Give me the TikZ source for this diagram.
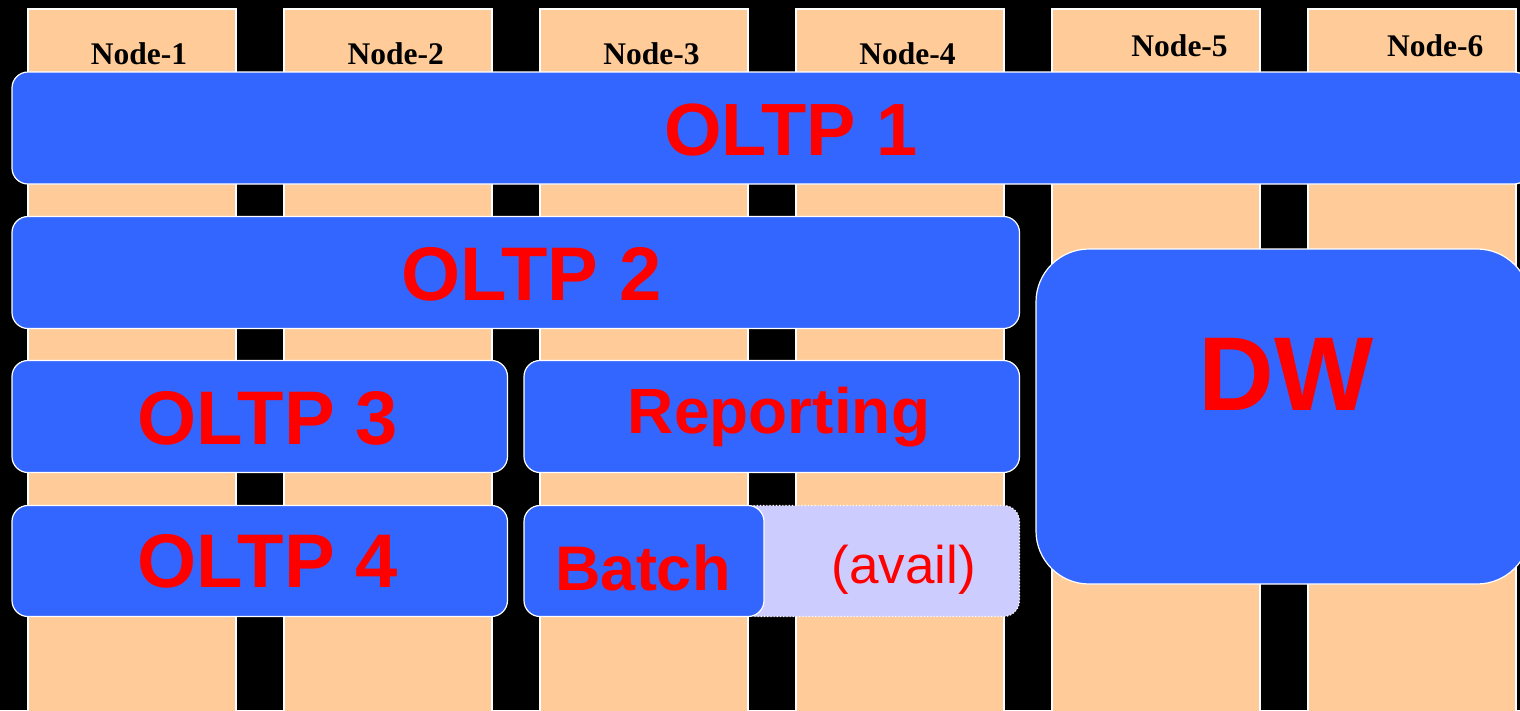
\documentclass[tikz,border=0pt]{standalone}
\usepackage{fontspec}
\setmainfont{Liberation Serif}
\newfontfamily\arialfont{Liberation Sans}
\definecolor{peach}{HTML}{FFCC99}
\definecolor{slotblue}{HTML}{3366FF}
\definecolor{freeslot}{HTML}{CCCCFF}
\definecolor{labelred}{HTML}{FF0000}
\tikzset{
  column/.style={fill=peach, draw=white, line width=1.2pt},
  slot/.style={fill=slotblue, draw=white, line width=1.2pt, rounded corners=16pt},
  freebox/.style={fill=freeslot, draw=white, line width=1.2pt, dotted, rounded corners=16pt},
  bigslot/.style={fill=slotblue, draw=white, line width=1.2pt, rounded corners=53pt},
  nodelabel/.style={inner sep=0pt, anchor=base, font=\bfseries\fontsize{31.5}{34}\selectfont},
  slotlabel/.style={inner sep=0pt, anchor=base, text=labelred},
}
\begin{document}
\begin{tikzpicture}[x=1pt, y=-1pt]
  \useasboundingbox (0,0) rectangle (1520,710);
  \fill[black] (0,0) rectangle (1520,710);
  \clip (0,0) rectangle (1520,710);

  % cluster nodes
  \foreach \i in {0,...,5} {
    \path[column] ({28+256*\i},9) rectangle ({236+256*\i},720);
  }

  % workloads
  \path[slot] (12,72) rectangle (1530,184);
  \path[slot] (12,216.5) rectangle (1019.5,328.5);
  \path[slot] (12,360.5) rectangle (507.5,472.5);
  \path[slot] (524,360.5) rectangle (1019.5,472.5);
  \path[slot] (12,505.5) rectangle (507.5,616.5);
  \path[freebox] (740,505.5) rectangle (1019.5,616.5);
  \path[slot] (524,505.5) rectangle (764,616.5);
  \path[bigslot] (1036,249) rectangle (1530,584);

  % node headings
  \node[nodelabel] (n1) at (139,64.3) {Node-1};
  \node[nodelabel] (n2) at (395.7,64.3) {Node-2};
  \node[nodelabel] (n3) at (651.5,64.3) {Node-3};
  \node[nodelabel] (n4) at (907.5,64.3) {Node-4};
  \node[nodelabel] (n5) at (1179.6,56) {Node-5};
  \node[nodelabel] (n6) at (1435.3,56) {Node-6};

  % workload labels
  \node[slotlabel, font=\arialfont\bfseries\fontsize{74}{80}\selectfont] (oltp1) at (791,155.7) {OLTP 1};
  \node[slotlabel, font=\arialfont\bfseries\fontsize{76}{80}\selectfont] (oltp2) at (531.5,300) {OLTP 2};
  \node[slotlabel, font=\arialfont\bfseries\fontsize{76}{80}\selectfont] (oltp3) at (268,444) {OLTP 3};
  \node[slotlabel, font=\arialfont\bfseries\fontsize{64}{70}\selectfont] (rep) at (779,433.3) {Reporting};
  \node[slotlabel, font=\arialfont\bfseries\fontsize{76}{80}\selectfont] (oltp4) at (268,587.7) {OLTP 4};
  \node[slotlabel, font=\arialfont\bfseries\fontsize{63}{70}\selectfont] (batch) at (643,590) {Batch};
  \node[slotlabel, font=\arialfont\fontsize{53}{60}\selectfont] (avail) at (903.6,583.5) {(avail)};
  \node[slotlabel, font=\arialfont\bfseries\fontsize{105}{115}\selectfont] (dw) at (1286,410.7) {DW};
\end{tikzpicture}
\end{document}
